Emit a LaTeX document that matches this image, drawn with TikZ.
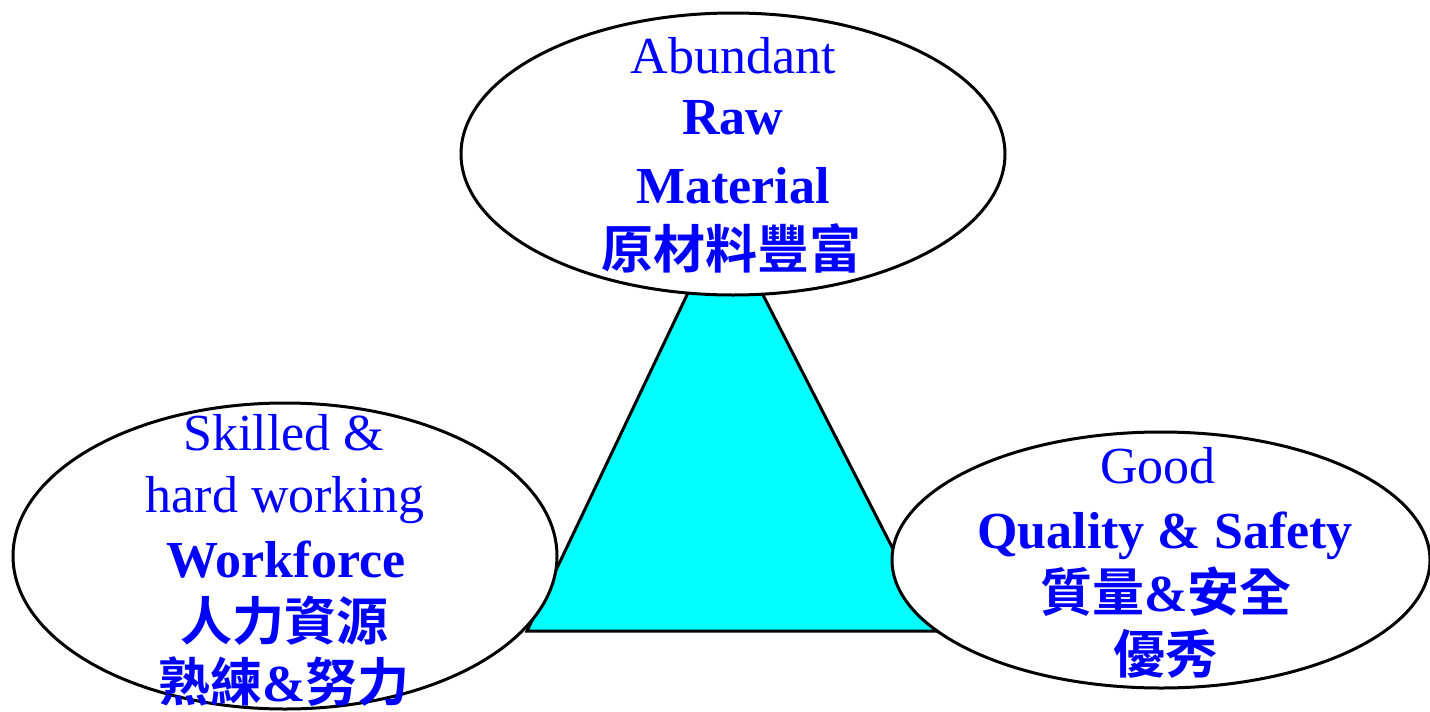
\documentclass[tikz,border=0pt]{standalone}
\usepackage{fontspec}
\setmainfont{Liberation Serif}
\newfontfamily\cjk{Noto Sans CJK TC}[BoldFont={Noto Sans CJK TC Bold}]
\usetikzlibrary{shapes.geometric}
\definecolor{txtblue}{RGB}{0,0,255}
\definecolor{tricyan}{RGB}{0,255,255}
\tikzset{
  bubble/.style={ellipse, draw=black, line width=3pt, fill=white, inner sep=0pt},
  lbl/.style={text=txtblue, anchor=base, inner sep=0pt, font=\fontsize{52}{62}\selectfont},
  lblb/.style={lbl, font=\fontsize{52}{62}\selectfont\bfseries},
  cjkl/.style={lbl, font=\fontsize{52}{62}\selectfont\cjk\bfseries},
  tri/.style={fill=tricyan, draw=black, line width=3pt, line join=miter}
}
\begin{document}
\begin{tikzpicture}[x=1pt,y=-1pt]
\useasboundingbox (0,0) rectangle (1430,712);
\clip (0,0) rectangle (1430,712);
% triangle
\coordinate (apex) at (723.6,218);
\coordinate (bl) at (527,631);
\coordinate (br) at (935,631);
\filldraw[tri] (apex) -- (bl) -- (br) -- cycle;
% ellipses
\node[bubble, minimum width=544pt, minimum height=282pt] (top) at (733,154) {};
\node[bubble, minimum width=544pt, minimum height=306pt] (left) at (285,556) {};
\node[bubble, minimum width=538pt, minimum height=256pt] (right) at (1161,560) {};
% top text
\node[lbl]  (t1) at (733,73) {Abundant};
\node[lblb] (t2) at (733,134) {Raw};
\node[lblb] (t3) at (733,203) {Material};
\node[cjkl] (t4) at (731,268) {原材料豐富};
% left text
\node[lbl]  (l1) at (284,450) {Skilled \&};
\node[lbl]  (l2) at (285,512) {hard working};
\node[lblb] (l3) at (286,577) {Workforce};
\node[cjkl] (l4) at (284,640) {人力資源};
\node[cjkl] (l5) at (284,701) {熟練{\rmfamily\bfseries\&}努力};
% right text
\node[lbl]  (r1) at (1158,483) {Good};
\node[lblb] (r2) at (1165,548) {Quality \& Safety};
\node[cjkl] (r3) at (1166,611) {質量{\rmfamily\bfseries\&}安全};
\node[cjkl] (r4) at (1165,673) {優秀};
\end{tikzpicture}
\end{document}
